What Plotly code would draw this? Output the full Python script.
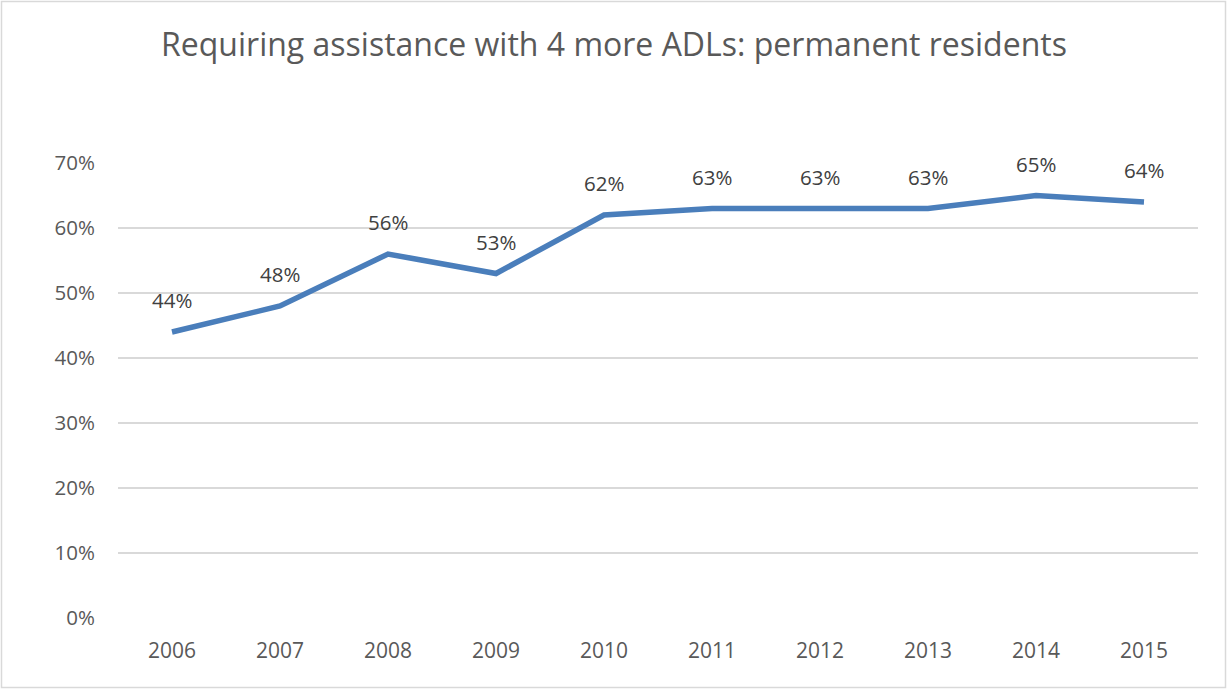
import plotly.graph_objects as go

years = ["2006", "2007", "2008", "2009", "2010", "2011", "2012", "2013", "2014", "2015"]
values = [0.44, 0.48, 0.56, 0.53, 0.62, 0.63, 0.63, 0.63, 0.65, 0.64]
labels = ["44%", "48%", "56%", "53%", "62%", "63%", "63%", "63%", "65%", "64%"]
yticks = [0, 0.1, 0.2, 0.3, 0.4, 0.5, 0.6, 0.7]
yticklabels = ["0%", "10%", "20%", "30%", "40%", "50%", "60%", "70%"]
title = "Requiring assistance with 4 more ADLs: permanent residents"

W, H = 1228, 689
ml, mr, mt, mb = 118, 30, 163, 71
pw, ph = W - ml - mr, H - mt - mb
FONT = "Open Sans, Liberation Sans, sans-serif"

fig = go.Figure()
fig.add_trace(go.Scatter(
    x=list(range(len(years))), y=values, mode="lines",
    line=dict(color="#4A7EBB", width=5.5),
    hoverinfo="skip", showlegend=False,
))

for i, (y, t) in enumerate(zip(values, labels)):
    fig.add_annotation(x=i, y=y, text=t, showarrow=False, yshift=32,
                       font=dict(family=FONT, size=20.5, color="#404040"))

# chart border
fig.add_shape(type="rect", xref="paper", yref="paper",
              x0=(1.5 - ml) / pw, x1=(W - 2.5 - ml) / pw,
              y0=(mt + ph - (H - 1.5)) / ph, y1=(mt + ph - 1.5) / ph,
              line=dict(color="#D9D9D9", width=1.5), fillcolor="rgba(0,0,0,0)", layer="below")

fig.update_layout(
    width=W, height=H,
    margin=dict(l=ml, r=mr, t=mt, b=mb),
    paper_bgcolor="white", plot_bgcolor="white",
    title=dict(text=title, x=0.5, xref="container", xanchor="center", y=1 - 45 / H, yanchor="middle",
               font=dict(family=FONT, size=32, color="#595959")),
    xaxis=dict(range=[-0.5, len(years) - 0.5], tickvals=list(range(len(years))), ticktext=years,
               showgrid=False, showline=False, zeroline=False, ticks="",
               tickfont=dict(family=FONT, size=21, color="#595959"),
               ticklabelstandoff=18, fixedrange=True),
    yaxis=dict(range=[0, 0.7], tickvals=yticks, ticktext=yticklabels, showgrid=True,
               gridcolor="#D9D9D9", gridwidth=1.5, zeroline=False, showline=False, ticks="",
               tickfont=dict(family=FONT, size=20.5, color="#595959"),
               ticklabelstandoff=22, fixedrange=True),
)

fig.write_html("out.html")
